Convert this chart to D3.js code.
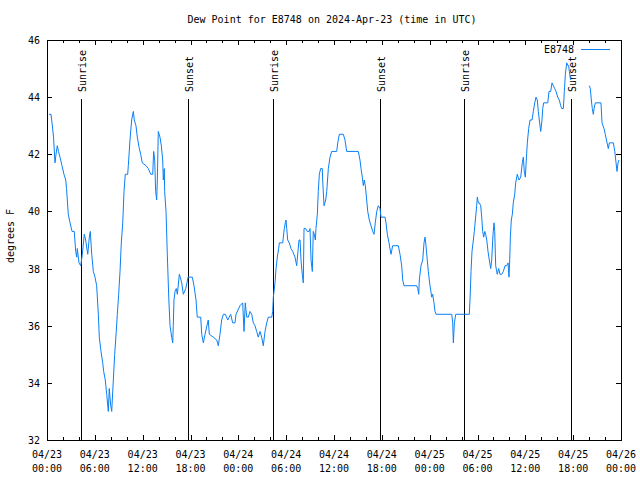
<!DOCTYPE html>
<html><head><meta charset="utf-8">
<script src="https://cdn.jsdelivr.net/npm/d3@7"></script>
<style>
body{margin:0;background:#fff;}
text{font-family:"DejaVu Sans Mono",monospace;font-size:10px;fill:#000;}
</style></head>
<body>
<svg id="c" width="640" height="480"></svg>
<script>
// hours since 2024-04-23 00:00 UTC; null value = gap in data
const hours = [0.25,0.5,0.63,0.82,1.0,1.13,1.29,1.44,1.63,1.88,2.13,2.35,2.45,2.67,2.89,3.14,3.42,3.60,3.73,3.80,4.01,4.23,4.43,4.68,4.85,5.11,5.31,5.43,5.61,5.81,6.02,6.23,6.44,6.56,6.77,6.99,7.11,7.31,7.49,7.69,7.81,7.99,8.12,8.19,8.32,8.49,8.69,8.82,8.99,9.16,9.32,9.50,9.66,9.82,10.12,10.20,10.41,10.62,10.83,10.95,11.16,11.33,11.58,11.75,11.95,12.42,12.71,13.01,13.26,13.38,13.51,13.63,13.76,13.84,13.96,14.17,14.34,14.51,14.59,14.71,14.76,14.93,15.09,15.27,15.43,15.64,15.77,15.84,15.93,16.06,16.22,16.35,16.60,16.72,16.90,17.10,17.40,17.56,17.69,18.23,18.44,18.69,18.85,19.28,19.41,19.61,19.82,20.23,20.36,20.86,21.29,21.49,21.70,21.91,22.12,22.37,22.67,23.04,23.29,23.58,23.71,24.21,24.55,24.71,24.87,25.05,25.25,25.46,25.68,25.88,26.09,26.30,26.50,26.72,26.93,27.13,27.35,27.56,27.76,28.19,28.31,28.39,28.60,28.73,28.89,29.06,29.14,29.57,29.64,29.77,29.89,29.98,30.07,30.19,30.39,30.61,30.82,31.11,31.32,31.48,31.61,31.74,31.86,32.02,32.15,32.24,32.45,32.65,32.87,32.99,33.12,33.28,33.40,33.53,33.66,33.74,33.91,34.03,34.16,34.33,34.53,34.58,34.75,34.96,35.09,35.29,35.50,35.71,36.34,36.47,36.67,37.17,37.38,37.59,39.05,39.26,39.39,39.55,39.68,39.80,39.93,40.10,40.23,40.43,40.64,40.86,41.02,41.18,41.36,41.56,41.77,41.90,42.40,42.52,42.69,42.90,43.15,43.36,44.07,44.28,44.49,44.62,44.78,46.38,46.50,46.63,46.70,46.91,47.13,47.29,47.42,47.54,47.70,47.83,48.04,48.26,48.38,48.54,48.67,48.80,50.77,50.89,50.97,51.10,51.27,52.97,53.06,53.19,53.31,53.48,53.60,53.73,53.90,53.98,54.10,54.23,54.40,54.53,54.65,54.78,54.91,55.03,55.16,55.32,55.48,55.66,55.78,55.95,56.07,56.16,56.28,56.48,56.66,56.82,57.04,57.24,57.45,57.66,57.83,57.95,58.04,58.12,58.24,58.37,58.49,58.67,58.79,58.99,59.21,59.42,59.62,59.75,59.87,60.00,60.12,60.25,60.42,60.59,60.84,61.00,61.18,61.34,61.50,61.63,61.75,61.93,62.09,62.18,62.30,62.59,62.81,62.97,63.18,63.35,63.51,63.69,63.85,64.06,64.26,64.44,64.56,64.77,64.89,65.02,65.19,65.35,65.44,65.52,65.69,66.8,68.03,68.15,68.28,68.40,68.53,68.62,68.78,69.49,69.62,69.87,70.03,70.25,70.41,70.54,71.04,71.22,71.38,71.50,71.63,71.75];
const dewF = [43.4,43.4,43.1,42.6,41.7,42.0,42.3,42.1,41.9,41.6,41.3,41.1,40.8,39.9,39.6,39.3,39.3,38.6,38.4,38.7,38.2,38.1,38.5,39.2,39.0,38.5,39.1,39.3,38.5,37.9,37.7,37.4,36.4,35.6,35.1,34.7,34.4,34.1,33.6,33.0,33.8,33.2,33.0,33.4,34.1,35.0,35.8,36.4,37.1,37.9,38.9,39.6,40.7,41.3,41.3,41.6,42.5,43.2,43.5,43.2,43.0,42.6,42.2,42.0,41.7,41.6,41.5,41.3,41.3,42.1,41.8,40.7,40.4,41.1,42.8,42.6,42.3,41.8,41.1,41.5,40.7,40.0,38.5,37.0,36.0,35.6,35.4,36.0,36.9,37.2,37.3,37.1,37.8,37.7,37.5,37.1,37.3,37.5,37.7,37.7,37.4,36.9,36.3,36.3,35.7,35.4,35.7,36.2,35.7,35.6,35.5,35.3,35.7,36.2,36.4,36.4,36.2,36.4,36.1,36.1,36.4,36.7,36.8,35.8,36.8,36.3,36.3,36.5,36.4,36.1,36.0,35.8,35.6,35.8,35.6,35.3,35.8,36.1,36.3,36.3,36.5,37.0,37.5,38.0,38.4,38.7,38.9,38.9,39.1,39.4,39.6,39.7,39.4,39.0,38.9,38.7,38.6,38.4,38.1,38.6,39.0,39.0,38.3,37.8,37.5,39.4,39.4,39.3,39.3,39.4,38.3,37.9,39.3,39.2,39.0,39.4,39.9,40.7,41.3,41.5,41.5,41.1,40.2,40.4,40.7,41.5,41.9,42.1,42.1,42.4,42.7,42.7,42.5,42.1,42.1,41.8,41.5,41.2,40.9,41.1,40.9,40.4,40.0,39.7,39.5,39.3,39.2,39.6,40.0,40.2,40.1,39.8,39.8,39.6,39.2,38.9,38.5,38.8,38.8,38.5,38.1,37.6,37.4,37.4,37.3,37.1,37.6,38.1,38.3,38.9,39.1,38.8,38.3,37.9,37.4,37.0,37.1,36.8,36.5,36.4,36.4,36.1,35.4,36.1,36.4,36.4,36.9,37.9,38.6,39.0,39.3,39.7,40.2,40.5,40.3,40.3,40.2,39.8,39.3,39.1,39.3,39.2,39.0,38.6,38.3,38.0,38.3,39.2,39.6,39.3,38.1,37.8,38.0,37.8,37.8,37.9,38.1,38.1,38.2,37.7,38.3,39.1,39.7,39.9,40.3,40.6,41.0,41.3,41.1,41.2,41.7,41.9,41.4,41.2,41.8,42.4,42.9,43.2,43.2,43.5,43.8,44.0,43.9,43.5,43.2,42.8,43.2,43.6,43.8,43.8,43.8,44.2,44.2,44.5,44.4,44.3,44.2,44.0,43.9,43.7,43.6,43.6,44.2,44.8,45.2,45.1,45.1,44.9,44.6,null,44.4,44.3,43.9,43.6,43.4,43.6,43.8,43.8,43.1,42.9,42.7,42.4,42.2,42.4,42.4,42.1,41.7,41.4,41.7,41.8];
const sunEvents = ["Sunrise","Sunset","Sunrise","Sunset","Sunrise","Sunset"];
const sunHours = [4.30,17.69,28.35,41.71,52.35,65.77];
const yTicks = [32,34,36,38,40,42,44,46];
const title = "Dew Point for E8748 on 2024-Apr-23 (time in UTC)";
const seriesName = "E8748";

const t0 = Date.UTC(2024,3,23);
const toDate = h => new Date(t0 + h*3600e3);

const L=47, R=621, T=40, B=440;
const svg = d3.select("#c");
const x = d3.scaleUtc().domain([toDate(0), toDate(72)]).range([L,R]);
const y = d3.scaleLinear().domain([32,46]).range([B,T]);
const blue = "#0a7ff5";

svg.append("text").attr("x",332).attr("y",23).attr("text-anchor","middle").text(title);

// ticks
const major = d3.utcHour.every(6).range(toDate(0), toDate(72.01));
const minor = d3.utcHour.every(2).range(toDate(0), toDate(72.01)).filter(d => d.getUTCHours()%6 !== 0);
const g = svg.append("g").attr("stroke","#000").attr("stroke-width",1).attr("shape-rendering","crispEdges");
major.forEach(d=>{
  const xx = Math.round(x(d))+0.5;
  g.append("line").attr("x1",xx).attr("x2",xx).attr("y1",B).attr("y2",B-5);
  g.append("line").attr("x1",xx).attr("x2",xx).attr("y1",T).attr("y2",T+5);
});
minor.forEach(d=>{
  const xx = Math.round(x(d))+0.5;
  g.append("line").attr("x1",xx).attr("x2",xx).attr("y1",B).attr("y2",B-3);
  g.append("line").attr("x1",xx).attr("x2",xx).attr("y1",T).attr("y2",T+3);
});
yTicks.forEach(v=>{
  const yy = Math.round(y(v))+0.5;
  g.append("line").attr("x1",L).attr("x2",L+5).attr("y1",yy).attr("y2",yy);
  g.append("line").attr("x1",R).attr("x2",R-5).attr("y1",yy).attr("y2",yy);
});
const fmtD = d3.utcFormat("%m/%d"), fmtT = d3.utcFormat("%H:%M");
major.forEach(d=>{
  const t = svg.append("text").attr("x",x(d)).attr("text-anchor","middle");
  t.append("tspan").attr("x",x(d)).attr("y",458).text(fmtD(d));
  t.append("tspan").attr("x",x(d)).attr("y",472).text(fmtT(d));
});
yTicks.forEach(v=>{
  svg.append("text").attr("x",40).attr("y",y(v)+4).attr("text-anchor","end").text(v);
});
svg.append("text").attr("transform","translate(14,236) rotate(-90)").attr("text-anchor","middle").text("degrees F");

// sun events
sunHours.forEach((h,i)=>{
  const xx = Math.round(x(toDate(h)))+0.5;
  g.append("line").attr("x1",xx).attr("x2",xx).attr("y1",B).attr("y2",99);
  svg.append("text").attr("transform",`translate(${xx+4},92) rotate(-90)`).attr("text-anchor","start").text(sunEvents[i]);
});

// data line
const data = hours.map((h,i)=>({d:toDate(h), v:dewF[i]}));
const line = d3.line().defined(p=>p.v!==null).x(p=>x(p.d)).y(p=>y(p.v));
svg.append("path").datum(data).attr("d",line).attr("fill","none").attr("stroke",blue).attr("stroke-width",1);

// border
svg.append("rect").attr("x",L+0.5).attr("y",T+0.5).attr("width",R-L).attr("height",B-T)
  .attr("fill","none").attr("stroke","#000").attr("shape-rendering","crispEdges");

// legend
svg.append("text").attr("x",574).attr("y",53).attr("text-anchor","end").text(seriesName);
svg.append("line").attr("x1",581).attr("x2",610).attr("y1",49.5).attr("y2",49.5).attr("stroke",blue);
</script>
</body></html>
